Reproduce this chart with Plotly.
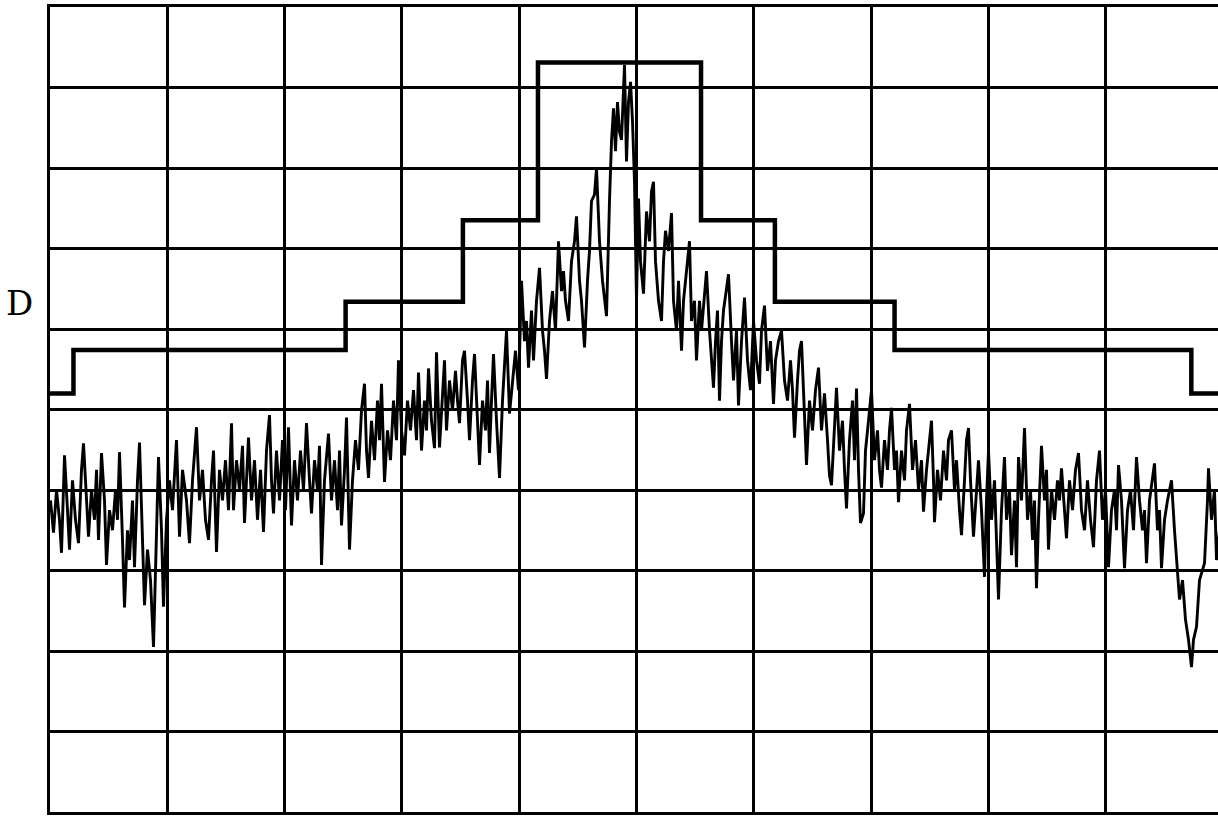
import plotly.graph_objects as go

# ---------------- data ----------------
# spectrum analyzer: 10 divisions horizontally (1 MHz/div), 10 dB/div vertically, ref 0 dB at top
N_BINS = 1173          # trace points across the 10 horizontal divisions
CENTER_BIN = 586
SPAN_MHZ = 10.0

trace_bin = [
    0, 3, 6, 9, 11, 14, 17, 19, 22, 25, 28, 31, 33, 36, 38, 41, 44, 46, 48, 51,
    54, 56, 59, 62, 65, 67, 69, 72, 74, 77, 79, 82, 84, 87, 89, 92, 94, 97, 100, 103,
    106, 108, 111, 113, 116, 119, 122, 126, 129, 132, 136, 139, 142, 146, 149, 152, 155, 158, 161, 163,
    166, 169, 172, 175, 178, 181, 183, 186, 189, 192, 194, 198, 201, 204, 207, 210, 213, 216, 219, 221,
    223, 226, 229, 232, 235, 238, 241, 244, 247, 250, 253, 256, 259, 261, 264, 267, 269, 271, 274, 276,
    278, 281, 284, 287, 289, 291, 294, 296, 299, 302, 305, 308, 311, 314, 316, 318, 321, 324, 327, 329,
    331, 334, 337, 340, 343, 346, 348, 351, 354, 357, 360, 363, 366, 368, 371, 374, 376, 378, 381, 384,
    386, 389, 392, 394, 396, 399, 402, 405, 407, 409, 412, 414, 417, 419, 422, 424, 427, 429, 432, 435,
    437, 439, 441, 443, 446, 449, 452, 454, 456, 459, 462, 465, 468, 471, 474, 476, 478, 481, 483, 486,
    489, 492, 494, 496, 499, 502, 505, 508, 511, 513, 515, 518, 521, 524, 526, 529, 531, 534, 537, 539,
    541, 544, 546, 549, 552, 554, 556, 559, 561, 563, 565, 567, 569, 571, 573, 574, 576, 578, 580, 582,
    584, 586, 588, 590, 593, 596, 599, 601, 603, 605, 608, 611, 613, 615, 618, 621, 623, 626, 628, 631,
    633, 636, 639, 641, 644, 646, 649, 651, 654, 656, 659, 661, 663, 665, 667, 669, 671, 673, 676, 678,
    681, 683, 686, 688, 691, 694, 697, 700, 703, 706, 709, 711, 714, 717, 720, 723, 725, 728, 731, 734,
    737, 740, 742, 744, 747, 749, 751, 754, 756, 759, 762, 765, 768, 771, 774, 777, 779, 781, 784, 786,
    789, 792, 794, 796, 799, 802, 804, 806, 808, 810, 813, 815, 818, 821, 824, 827, 829, 831, 834, 837,
    839, 841, 844, 846, 848, 851, 854, 856, 859, 862, 865, 868, 871, 873, 876, 879, 881, 883, 884, 887,
    890, 893, 896, 898, 901, 904, 906, 909, 911, 914, 916, 918, 920, 923, 926, 928, 931, 934, 936, 938,
    941, 944, 946, 948, 951, 954, 956, 959, 961, 964, 966, 968, 971, 974, 977, 980, 982, 984, 986, 988,
    991, 994, 996, 998, 1001, 1004, 1007, 1009, 1011, 1014, 1016, 1019, 1022, 1025, 1028, 1031, 1034, 1037, 1040, 1043,
    1046, 1049, 1052, 1055, 1058, 1061, 1064, 1066, 1068, 1071, 1074, 1077, 1080, 1083, 1086, 1089, 1092, 1094, 1096, 1099,
    1102, 1104, 1107, 1109, 1111, 1114, 1117, 1119, 1121, 1124, 1126, 1129, 1132, 1135, 1138, 1141, 1143, 1146, 1149, 1152,
    1154, 1157, 1158, 1161, 1164, 1166, 1169,
]

trace_db = [
    -61.3, -65.3, -60.0, -63.7, -67.8, -55.7, -62.5, -67.4, -58.8, -63.7, -66.6, -57.5, -54.2, -61.3, -65.8, -60.0, -63.7, -57.5, -66.2, -55.4,
    -61.3, -69.3, -62.5, -65.0, -60.0, -63.7, -55.3, -66.2, -74.6, -65.0, -68.7, -61.3, -69.6, -58.8, -54.1, -66.2, -74.3, -67.4, -71.2, -79.5,
    -66.2, -55.9, -65.0, -74.5, -63.7, -58.8, -62.5, -53.8, -65.8, -57.5, -61.3, -66.6, -58.8, -52.2, -61.3, -57.5, -63.7, -66.2, -58.8, -55.1,
    -67.7, -57.5, -61.3, -56.3, -62.5, -51.7, -62.5, -56.3, -60.0, -54.5, -64.1, -53.5, -61.3, -56.3, -63.7, -57.5, -65.2, -55.1, -50.7, -58.8,
    -62.9, -55.1, -61.3, -53.8, -62.5, -52.2, -64.4, -56.3, -61.3, -55.1, -60.0, -51.7, -58.8, -62.9, -56.3, -60.0, -54.5, -69.3, -58.8, -55.7,
    -53.0, -61.3, -56.3, -62.5, -55.1, -64.4, -57.5, -51.0, -67.4, -58.8, -53.8, -57.5, -50.1, -46.8, -55.1, -58.5, -51.4, -56.3, -48.9, -53.8,
    -46.8, -59.0, -52.6, -56.3, -48.9, -53.8, -43.9, -52.6, -55.7, -48.9, -52.6, -47.6, -53.8, -45.4, -55.1, -48.9, -52.6, -44.9, -51.4, -54.8,
    -42.9, -54.7, -47.6, -43.9, -52.6, -46.4, -50.1, -45.2, -48.9, -51.7, -43.9, -42.7, -48.9, -53.8, -46.4, -43.1, -51.4, -56.9, -48.9, -52.6,
    -46.4, -55.4, -48.9, -43.1, -51.4, -58.5, -48.9, -43.9, -40.2, -50.5, -46.4, -42.7, -47.6, -34.0, -41.5, -39.0, -44.8, -37.7, -43.9, -36.5,
    -32.4, -40.2, -42.7, -46.2, -39.0, -35.3, -40.2, -29.1, -35.3, -32.8, -36.5, -39.0, -31.6, -29.1, -26.0, -34.0, -36.5, -42.3, -34.0, -30.3,
    -24.1, -23.3, -20.0, -29.1, -34.0, -36.5, -38.4, -24.1, -16.7, -12.6, -17.9, -11.8, -15.5, -16.5, -10.5, -7.2, -19.2, -11.8, -9.3, -14.2,
    -21.7, -36.5, -23.8, -31.6, -35.6, -25.4, -29.1, -22.9, -21.7, -31.6, -36.5, -39.0, -31.6, -27.8, -30.3, -25.6, -36.5, -40.2, -34.0, -42.7,
    -36.5, -32.8, -29.1, -39.0, -36.5, -43.9, -36.5, -40.2, -35.3, -32.8, -40.2, -43.9, -47.3, -41.5, -37.7, -48.9, -41.5, -37.7, -35.3, -33.2,
    -41.5, -46.4, -40.2, -49.5, -41.5, -36.1, -43.9, -47.6, -39.0, -43.9, -46.8, -40.2, -37.1, -45.2, -41.5, -49.3, -43.9, -41.5, -40.2, -46.4,
    -48.9, -43.9, -47.6, -53.5, -46.4, -42.7, -41.5, -51.4, -56.9, -48.9, -52.6, -47.6, -44.8, -52.6, -48.0, -53.8, -58.2, -59.4, -51.4, -47.3,
    -55.1, -51.4, -57.5, -62.3, -53.8, -48.9, -56.3, -47.4, -57.5, -64.1, -62.9, -55.1, -51.4, -47.6, -56.3, -52.6, -57.5, -59.7, -53.8, -57.5,
    -52.6, -49.8, -57.5, -55.1, -61.5, -55.1, -58.8, -52.6, -49.3, -57.5, -53.8, -60.0, -56.3, -62.7, -57.5, -53.8, -51.4, -58.8, -64.0, -57.5,
    -61.3, -55.1, -58.8, -53.8, -52.6, -60.0, -56.3, -62.5, -65.6, -58.8, -53.8, -52.3, -58.8, -65.8, -60.0, -56.3, -62.5, -70.8, -61.3, -55.1,
    -63.7, -58.8, -66.2, -73.6, -62.5, -55.9, -63.7, -60.0, -68.1, -61.3, -69.6, -55.9, -61.3, -52.3, -63.7, -60.0, -66.2, -61.3, -72.2, -63.7,
    -54.5, -61.3, -57.5, -67.4, -60.0, -63.7, -58.8, -61.3, -57.3, -62.5, -66.0, -58.8, -62.5, -57.5, -55.4, -62.5, -65.0, -58.8, -63.7, -67.1,
    -58.8, -55.1, -63.7, -60.0, -69.6, -62.5, -60.0, -65.0, -56.9, -61.3, -69.7, -62.5, -60.0, -65.0, -55.9, -61.3, -65.0, -62.5, -69.1, -61.3,
    -58.8, -56.7, -65.0, -62.5, -69.7, -63.7, -61.3, -60.0, -58.8, -65.0, -68.7, -73.6, -71.2, -76.1, -78.6, -82.0, -78.6, -77.0, -71.2, -69.9,
    -69.1, -61.3, -57.3, -63.7, -60.0, -68.7, -65.0,
]

# limit mask (frequency offset in MHz, level in dB), stepped
mask_mhz = [-5.0, -4.80, -2.48, -1.48, -0.84, 0.55, 1.18, 2.20, 4.73, 5.0]
mask_db = [-48.0, -42.6, -36.6, -26.5, -6.9, -26.5, -36.6, -42.6, -48.0, -48.0]

side_label = "D"

# ---------------- figure ----------------
freq_mhz = [(b - CENTER_BIN) * SPAN_MHZ / N_BINS for b in trace_bin]

fig = go.Figure()
fig.add_trace(go.Scatter(
    x=freq_mhz, y=trace_db, mode="lines",
    line=dict(color="black", width=2.9),
    hoverinfo="skip", showlegend=False,
))
fig.add_trace(go.Scatter(
    x=mask_mhz, y=mask_db, mode="lines",
    line=dict(color="black", width=4.5, shape="hv"),
    hoverinfo="skip", showlegend=False,
))

W, H = 1218, 816
ml, mt, mb = 50, 7, 4
plot_w = W - ml
plot_h = H - mt - mb
px_per_div = 117.3
x0 = -5.0
x1 = x0 + plot_w / px_per_div

fig.update_layout(
    width=W, height=H,
    margin=dict(l=ml, r=0, t=mt, b=mb, pad=0),
    paper_bgcolor="white", plot_bgcolor="white",
    xaxis=dict(range=[x0, x1], dtick=1, tick0=0, showgrid=True,
               gridcolor="black", gridwidth=3, zeroline=False,
               showticklabels=False, ticks="", fixedrange=True,
               showline=True, linecolor="black", linewidth=3, mirror=True),
    yaxis=dict(range=[-100, 0], dtick=10, tick0=0, showgrid=True,
               gridcolor="black", gridwidth=3, zeroline=False,
               showticklabels=False, ticks="", fixedrange=True,
               showline=True, linecolor="black", linewidth=3, mirror=False),
    annotations=[dict(
        text=side_label, xref="paper", yref="paper",
        x=(19 - ml) / plot_w, y=(H - mb - 303) / plot_h,
        xanchor="center", yanchor="middle", showarrow=False,
        font=dict(family="DejaVu Serif", size=34, color="black"),
    )],
)

fig.write_html(
    "out.html",
    config={"displayModeBar": False},
    post_script="document.body.style.margin='0';document.body.style.overflow='hidden';",
)
